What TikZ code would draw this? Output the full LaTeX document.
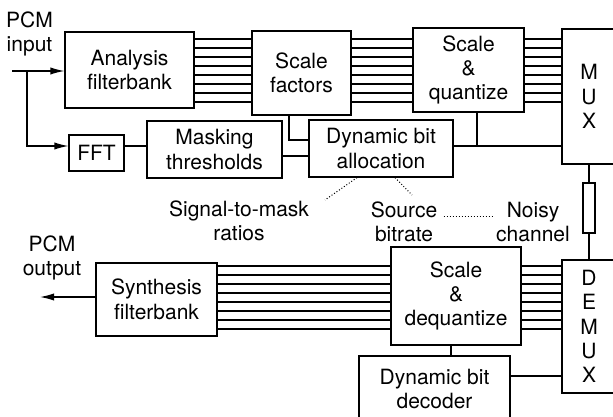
\documentclass[tikz,border=0pt]{standalone}
\usepackage{fontspec}
\setmainfont{TeX Gyre Heros}
\usetikzlibrary{arrows.meta}
\tikzset{
  blk/.style={shape=rectangle,draw,line width=0.6pt,inner sep=0pt,align=center,
    font=\fontsize{10.5}{12.2}\selectfont},
  lbl/.style={inner sep=0pt,align=center,font=\fontsize{10.5}{12.2}\selectfont},
  wire/.style={line width=0.6pt},
  hint/.style={densely dotted,line width=0.5pt}
}
\begin{document}
\begin{tikzpicture}[x=0.5pt,y=-0.5pt,>={Latex[length=7pt,width=3.6pt]}]
\useasboundingbox (0,0) rectangle (613,416);
\clip (0,0) rectangle (613,416);

\node(analysis) at (129.5,70)[blk,minimum width=64.5pt,minimum height=38pt]  {Analysis\\filterbank};
\node(scalef)   at (301.5,73)[blk,minimum width=49.5pt,minimum height=42pt]  {Scale\\factors};
\node(scaleq)   at (468.5,70)[blk,minimum width=55.5pt,minimum height=42pt]  {Scale\\\&\\quantize};
\node(mux)      at (589,96.5)[blk,minimum width=27pt,minimum height=67.5pt]  {M\\U\\X};
\node(fft)      at (96.5,153)[blk,minimum width=27.5pt,minimum height=18pt]  {FFT};
\node(mask)     at (214.5,149.5)[blk,minimum width=67.5pt,minimum height=28.5pt] {Masking\\thresholds};
\node(alloc)    at (381,148.5)[blk,minimum width=72pt,minimum height=28.5pt] {Dynamic bit\\allocation};
\node(res)      at (589,208)[blk,minimum width=6pt,minimum height=25pt]      {};
\node(synth)    at (156.5,299.5)[blk,minimum width=60.5pt,minimum height=36.5pt] {Synthesis\\filterbank};
\node(scaled)   at (456,296)[blk,minimum width=65pt,minimum height=49pt]     {Scale\\\&\\dequantize};
\node(demux)    at (589,326.5)[blk,minimum width=27pt,minimum height=66.5pt] {D\\E\\M\\U\\X};
\node(decoder)  at (434.5,389)[blk,minimum width=75.5pt,minimum height=33pt] {Dynamic bit\\decoder};

\node(pcmin)  at (29.5,34)[lbl]  {PCM\\input};
\node(pcmout) at (52,258)[lbl]   {PCM\\output};
\node(smr)    at (239,221)[lbl]  {Signal-to-mask\\ratios};
\node(source) at (404,222)[lbl]  {Source\\bitrate};
\node(noisy)  at (533,222)[lbl]  {Noisy\\channel};

\coordinate(in)  at (12,71);
\coordinate(br)  at (27,71);
\coordinate(out) at (40,297);
\coordinate(j1)  at (477,146);
\coordinate(d1)  at (325,200);
\coordinate(d2)  at (412,195);

\draw [wire,->] (in) -- (in -| analysis.west);
\draw [wire,->] (br) |- (fft.west |- 0,146);
\draw [wire,->] (synth.west |- out) -- (out);

\foreach \y in {39,48,...,102} {
  \draw [wire] (analysis.east |- 0,\y) -- (scalef.west |- 0,\y);
  \draw [wire] (scalef.east |- 0,\y)   -- (scaleq.west |- 0,\y);
  \draw [wire] (scaleq.east |- 0,\y)   -- (mux.west |- 0,\y);
}
\foreach \y in {266,275,...,329} {
  \draw [wire] (synth.east |- 0,\y)  -- (scaled.west |- 0,\y);
  \draw [wire] (scaled.east |- 0,\y) -- (demux.west |- 0,\y);
}

\draw [wire] (fft.east |- 0,146)  -- (mask.west |- 0,146);
\draw [wire] (mask.east |- 0,156) -- (alloc.west |- 0,156);
\draw [wire] (scalef.south -| 289,0) |- (alloc.west |- 0,140);
\draw [wire] (alloc.east |- 0,146) -- (mux.west |- 0,146);
\draw [wire] (scaleq.south -| j1) -- (j1);
\draw [wire] (mux) -- (res);
\draw [wire] (res) -- (demux);
\draw [wire] (scaled.south -| 451,0) -- (decoder.north -| 451,0);
\draw [wire] (decoder.east |- 0,376) -- (demux.west |- 0,376);

\draw [hint] (alloc.south -| 357,0) -- (d1);
\draw [hint] (alloc.south -| 395,0) -- (d2);
\draw [hint,shorten >=2pt,shorten <=3pt] ([yshift=3pt]source.east) -- ([yshift=3pt]noisy.west);

\end{tikzpicture}
\end{document}
